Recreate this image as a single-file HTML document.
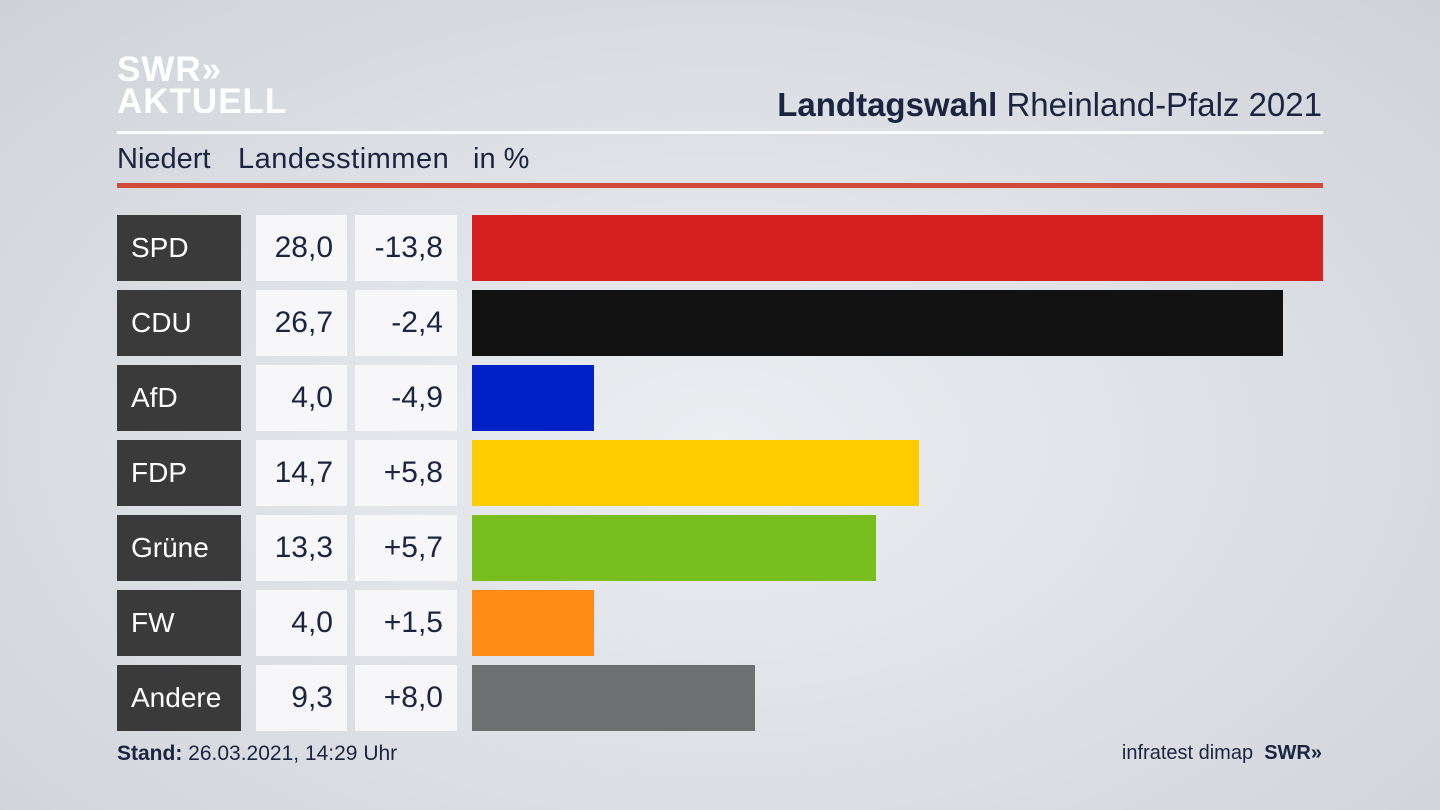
<!DOCTYPE html>
<html><head><meta charset="utf-8"><style>
body{margin:0;width:1440px;height:810px;overflow:hidden;font-family:"Liberation Sans",sans-serif;
background:radial-gradient(ellipse at 50% 55%,#eceef2 0%,#dcdfe4 55%,#cfd2d8 100%);position:relative;color:#1b2440}
.abs{position:absolute}
.logo{color:#fff;font-weight:bold;font-size:35px;line-height:32px;letter-spacing:1px}
.row .lab{position:absolute;left:117px;width:124px;height:66px;background:#3a3a3a;color:#fff;font-size:28px;line-height:66px;box-sizing:border-box;padding-left:14px}
.row .v{position:absolute;height:66px;background:#f7f7f9;font-size:30px;line-height:66px;text-align:right;box-sizing:border-box;padding-right:14px}
</style></head><body>
<div class="abs logo" style="left:117px;top:54px">SWR&#187;<br>AKTUELL</div>
<div class="abs" style="right:118px;top:86px;font-size:33px"><b>Landtagswahl</b> Rheinland-Pfalz 2021</div>
<div class="abs" style="left:117px;top:131px;width:1206px;height:3px;background:#fff"></div>
<div class="abs" style="left:117px;top:143px;font-size:29px">Niedert</div>
<div class="abs" style="left:238px;top:143px;font-size:29px;letter-spacing:0.5px">Landesstimmen</div>
<div class="abs" style="left:473px;top:143px;font-size:29px">in %</div>
<div class="abs" style="left:117px;top:183px;width:1206px;height:5px;background:#d24b3a"></div>
<div id="rows"></div>
<div class="abs" style="left:117px;top:742px;font-size:21px"><b>Stand:</b> 26.03.2021, 14:29 Uhr</div>
<div class="abs" style="right:118px;top:742px;font-size:20px">infratest dimap &nbsp;<b>SWR&#187;</b></div>
<script>
const parties=["SPD","CDU","AfD","FDP","Grüne","FW","Andere"];
const shares=[28.0,26.7,4.0,14.7,13.3,4.0,9.3];
const diffs=["-13,8","-2,4","-4,9","+5,8","+5,7","+1,5","+8,0"];
const colors=["#d61f1f","#121212","#0021c8","#ffcc00","#78be1e","#ff8c14","#6e6f71"];
const x0=472,maxV=28,maxW=851;
const xs=v=>v/maxV*maxW;
const c=document.getElementById('rows');
parties.forEach((p,i)=>{
 const y=215+i*75;
 const r=document.createElement('div');r.className='row';
 
 
 const l=document.createElement('div');l.className='lab';l.style.top=y+'px';l.textContent=p;
 
 
 const v=document.createElement('div');v.className='v';v.style.cssText+=`left:256px;width:91px;top:${y}px`;v.textContent=shares[i].toFixed(1).replace('.',',');
 
 
 const d=document.createElement('div');d.className='v';d.style.cssText+=`left:355px;width:102px;top:${y}px`;d.textContent=diffs[i];
 
 
 const b=document.createElement('div');b.className='abs';b.style.cssText=`left:${x0}px;top:${y}px;height:66px;width:${xs(shares[i])}px;background:${colors[i]}`;
 
 
 r.append(l,v,d,b);c.append(r);
});
</script>
</body></html>
